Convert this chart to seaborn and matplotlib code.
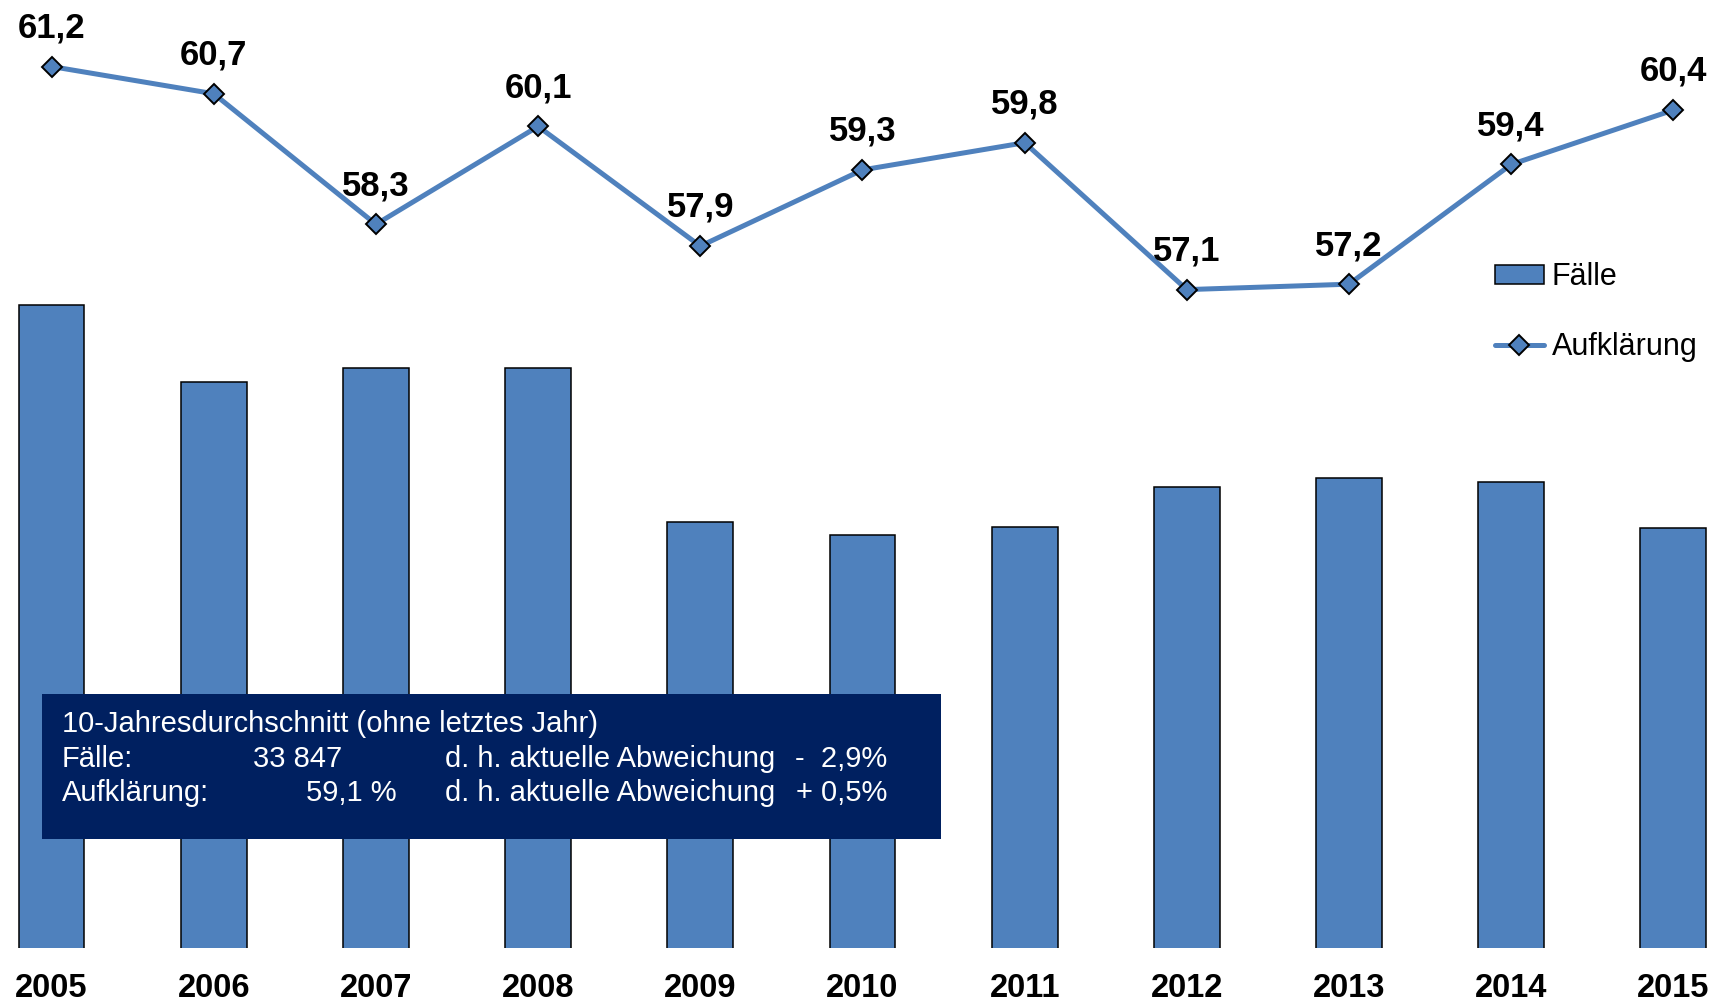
import pandas as pd
import seaborn as sns
import matplotlib.pyplot as plt
from matplotlib.patches import Rectangle

years = [2005, 2006, 2007, 2008, 2009, 2010, 2011, 2012, 2013, 2014, 2015]
faelle = [35506, 34594, 34763, 34767, 32935, 32788, 32882, 33353, 33464, 33417, 32865]
aufklaerung = [61.2, 60.7, 58.3, 60.1, 57.9, 59.3, 59.8, 57.1, 57.2, 59.4, 60.4]

box_title = '10-Jahresdurchschnitt (ohne letztes Jahr)'
box_rows = [('Fälle:', '33 847', '-  2,9%'),
            ('Aufklärung:', '59,1 %', '+ 0,5%')]

BLUE = '#4F81BD'
NAVY = '#002060'
W, H = 1722, 1002


def px(x, y):
    # pixel position (from top left) -> figure fraction
    return x / W, 1 - y / H


def main():
    sns.set_style('white')
    plt.rcParams['font.family'] = ['Liberation Sans', 'DejaVu Sans']
    plt.rcParams['text.color'] = 'black'
    plt.rcParams['xtick.color'] = 'black'

    df = pd.DataFrame({'Jahr': years, 'Fälle': faelle,
                       'Aufklärung': aufklaerung})

    fig = plt.figure(figsize=(W / 100, H / 100), dpi=100)
    ax = fig.add_axes([0, 1 - 948 / H, 1, (948 - 23) / H])

    sns.barplot(data=df, x='Jahr', y='Fälle', ax=ax, native_scale=True,
                color=BLUE, saturation=1, width=0.406,
                edgecolor='black', linewidth=1.1)
    ax.set_ylim(27890, 38851)

    ax2 = ax.twinx()
    sns.lineplot(data=df, x='Jahr', y='Aufklärung', ax=ax2, color=BLUE,
                 linewidth=3.6, marker='D', markersize=10.5,
                 markerfacecolor=BLUE, markeredgecolor='black',
                 markeredgewidth=1.4, solid_capstyle='round')
    ax2.set_ylim(45, 62)

    for yr, v in zip(years, aufklaerung):
        ax2.annotate(f'{v:.1f}'.replace('.', ','), (yr, v),
                     xytext=(0, 21), textcoords='offset points',
                     ha='center', va='baseline', fontsize=25,
                     fontweight='bold', color='black',
                     annotation_clip=False)

    for a in (ax, ax2):
        a.set_xlim(years[0] - 0.318, years[-1] + 0.30)
        a.set_xlabel('')
        a.set_ylabel('')
        a.set_yticks([])
        for s in a.spines.values():
            s.set_visible(False)
    ax.set_xticks(years)
    ax.set_xticklabels([str(y) for y in years], fontsize=23.5,
                       fontweight='bold', color='black')
    ax.tick_params(axis='x', length=0, pad=18)

    fig.legend(handles=[ax.patches[0], ax2.lines[0]],
               labels=['Fälle', 'Aufklärung'],
               loc='upper left', bbox_to_anchor=px(1495, 262),
               frameon=False, fontsize=22, handlelength=1.6,
               handleheight=0.6, handletextpad=0.25, labelspacing=1.32,
               borderpad=0, borderaxespad=0, labelcolor='black')

    # info box
    x0, y0 = px(42, 839)
    fig.patches.append(Rectangle((x0, y0), (941 - 42) / W, (839 - 694) / H,
                                 transform=fig.transFigure,
                                 facecolor=NAVY, edgecolor='none',
                                 zorder=2))
    fs = 21
    fig.text(*px(62, 732), box_title, color='white', fontsize=fs,
             va='baseline', zorder=3)
    for (name, val, dev), yb, xv in zip(box_rows, [767, 801], [253, 306]):
        fig.text(*px(62, yb), name, color='white', fontsize=fs,
                 va='baseline', zorder=3)
        fig.text(*px(xv, yb), val, color='white', fontsize=fs,
                 va='baseline', zorder=3)
        fig.text(*px(445, yb), 'd. h. aktuelle Abweichung', color='white',
                 fontsize=fs, va='baseline', zorder=3)
        fig.text(*px(887, yb), dev, color='white', fontsize=fs,
                 va='baseline', ha='right', zorder=3)

    plt.savefig('out.png', dpi=100)


if __name__ == '__main__':
    main()
